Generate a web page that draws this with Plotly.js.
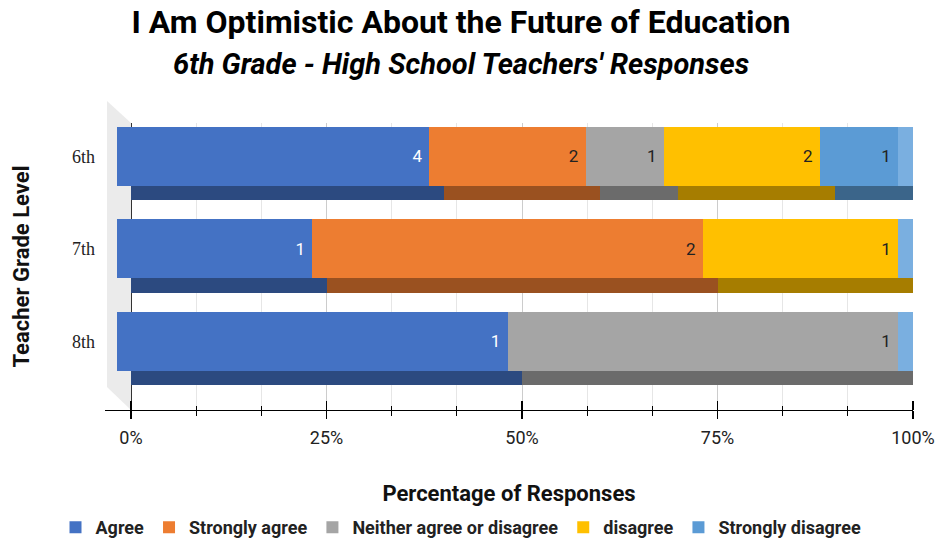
<!DOCTYPE html>
<html>
<head>
<meta charset="utf-8">
<script src="https://cdn.plot.ly/plotly-3.0.1.min.js"></script>
<style>html,body{margin:0;padding:0;background:#fff;}#chart{width:937px;height:546px;}</style>
</head>
<body>
<div id="chart"></div>
<script>
// ---- data ----
const categories = ['6th', '7th', '8th'];
const seriesNames = ['Agree', 'Strongly agree', 'Neither agree or disagree', 'disagree', 'Strongly disagree'];
const agree = [4, 1, 1];
const stronglyAgree = [2, 2, null];
const neither = [1, null, 1];
const disagree = [2, 1, null];
const stronglyDisagree = [1, null, null];
const xTickVals = [0, 25, 50, 75, 100];
const xTickText = ['0%', '25%', '50%', '75%', '100%'];

// ---- styles ----
const seriesValues = [agree, stronglyAgree, neither, disagree, stronglyDisagree];
const frontColors = ['#4472c4', '#ed7d31', '#a5a5a5', '#ffc000', '#5b9bd5'];
const darkColors = ['#2c4a80', '#9a5120', '#6b6b6b', '#a67d00', '#3b658a'];
const textColors = ['#ffffff', '#222222', '#222222', '#222222', '#222222'];
const sideColor = '#7aafe0';

const totals = categories.map((c, i) => seriesValues.reduce((s, arr) => s + (arr[i] || 0), 0));

const traces = [];
// back layer (bottom faces), shifted down-right
seriesValues.forEach((vals, k) => {
  traces.push({
    type: 'bar', orientation: 'h', x: vals, y: categories,
    xaxis: 'x', yaxis: 'y', name: seriesNames[k], showlegend: false,
    marker: {color: darkColors[k], line: {width: 0}}, hoverinfo: 'skip'
  });
});
// side face layer
traces.push({
  type: 'bar', orientation: 'h', x: totals, y: categories,
  xaxis: 'x2', yaxis: 'y2', name: 'side', showlegend: false,
  marker: {color: sideColor, line: {width: 0}}, hoverinfo: 'skip'
});
// front faces
seriesValues.forEach((vals, k) => {
  traces.push({
    type: 'bar', orientation: 'h', x: vals, y: categories,
    xaxis: 'x3', yaxis: 'y2', name: seriesNames[k],
    marker: {color: frontColors[k], line: {width: 0}},
    text: vals.map(v => v == null ? '' : String(v) + '\u00a0'),
    textposition: 'inside', insidetextanchor: 'end', textangle: 0,
    insidetextfont: {family: 'Roboto', size: 17, color: textColors[k]},
    cliponaxis: false
  });
});

// plot area: x 105..913, y 123..410
const W = 808, H = 287, L = 105, B = 410;
const px = p => (p - L) / W;
const py = p => (B - p) / H;

const layout = {
  width: 937, height: 546,
  margin: {l: 105, r: 24, t: 123, b: 136, pad: 0},
  paper_bgcolor: '#ffffff', plot_bgcolor: 'rgba(0,0,0,0)',
  barmode: 'stack', barnorm: 'percent', bargap: 0.362,
  font: {family: 'Roboto', color: '#222'},
  title: {
    text: 'I Am Optimistic About the Future of Education',
    font: {family: 'Roboto', size: 32, weight: 'bold', color: '#000'},
    x: 0.492, xanchor: 'center', xref: 'container',
    y: 0.96, yanchor: 'middle', yref: 'container'
  },
  annotations: [{
    text: "6th Grade - High School Teachers' Responses",
    font: {family: 'Roboto', size: 29, weight: 'bold', style: 'italic', color: '#000'},
    xref: 'paper', yref: 'paper', x: px(461), y: py(64),
    xanchor: 'center', yanchor: 'middle', showarrow: false
  }],
  xaxis: {
    range: [-3.325, 100], fixedrange: true,
    tickvals: xTickVals, ticktext: xTickText,
    ticks: 'outside', ticklen: 8, tickcolor: '#000', tickwidth: 1.3,
    tickfont: {family: 'Roboto', size: 18, color: '#222'},
    ticklabelstandoff: 3,
    showgrid: true, gridcolor: '#cccccc', gridwidth: 1,
    minor: {dtick: 25 / 3, tick0: 0, ticks: 'outside', ticklen: 5, tickcolor: '#000', tickwidth: 1.3, showgrid: true, gridcolor: '#e6e6e6'},
    showline: true, linecolor: '#000', linewidth: 1.3,
    zeroline: true, zerolinecolor: '#333', zerolinewidth: 1,
    title: {text: 'Percentage of Responses', font: {family: 'Roboto', size: 22, weight: 'bold', color: '#111'}, standoff: 38},
    anchor: 'y'
  },
  xaxis2: {
    overlaying: 'x', anchor: 'free', position: 0, side: 'top', range: [-3.325, 100],
    tickvals: xTickVals, ticks: 'outside', ticklen: 9, tickcolor: '#000', tickwidth: 1.3,
    minor: {dtick: 25 / 3, tick0: 0, ticks: 'outside', ticklen: 4, tickcolor: '#000', tickwidth: 1.3},
    showticklabels: false, showgrid: false, zeroline: false, showline: false
  },
  yaxis: {
    type: 'category', categoryarray: categories, range: [2.589, -0.514],
    showticklabels: false, showgrid: false, zeroline: false, ticks: '', fixedrange: true
  },
  xaxis3: {
    overlaying: 'x', anchor: 'y2', range: [-1.536, 101.92], visible: false
  },
  yaxis2: {
    overlaying: 'y', type: 'category', categoryarray: categories, range: [2.741, -0.362],
    showgrid: false, zeroline: false, ticks: '', side: 'left',
    tickfont: {family: 'Liberation Serif', size: 18, color: '#222'},
    ticklabelstandoff: 9,
    title: {text: 'Teacher Grade Level', font: {family: 'Roboto', size: 22, weight: 'bold', color: '#111'}, standoff: 36}
  },
  legend: {
    orientation: 'h', xref: 'container', yref: 'container',
    x: 0.492, xanchor: 'center', y: -0.012, yanchor: 'bottom',
    font: {family: 'Roboto', size: 18, weight: 'bold', color: '#222'},
    traceorder: 'normal'
  },
  shapes: [{
    type: 'path', xref: 'paper', yref: 'paper', layer: 'below',
    path: `M${px(107)},${py(101)} L${px(131)},${py(123)} L${px(131)},${py(410)} L${px(107)},${py(387)} Z`,
    fillcolor: '#ebebeb', line: {width: 0}
  }]
};

Plotly.newPlot('chart', traces, layout, {displayModeBar: false, staticPlot: true});
</script>
</body>
</html>
